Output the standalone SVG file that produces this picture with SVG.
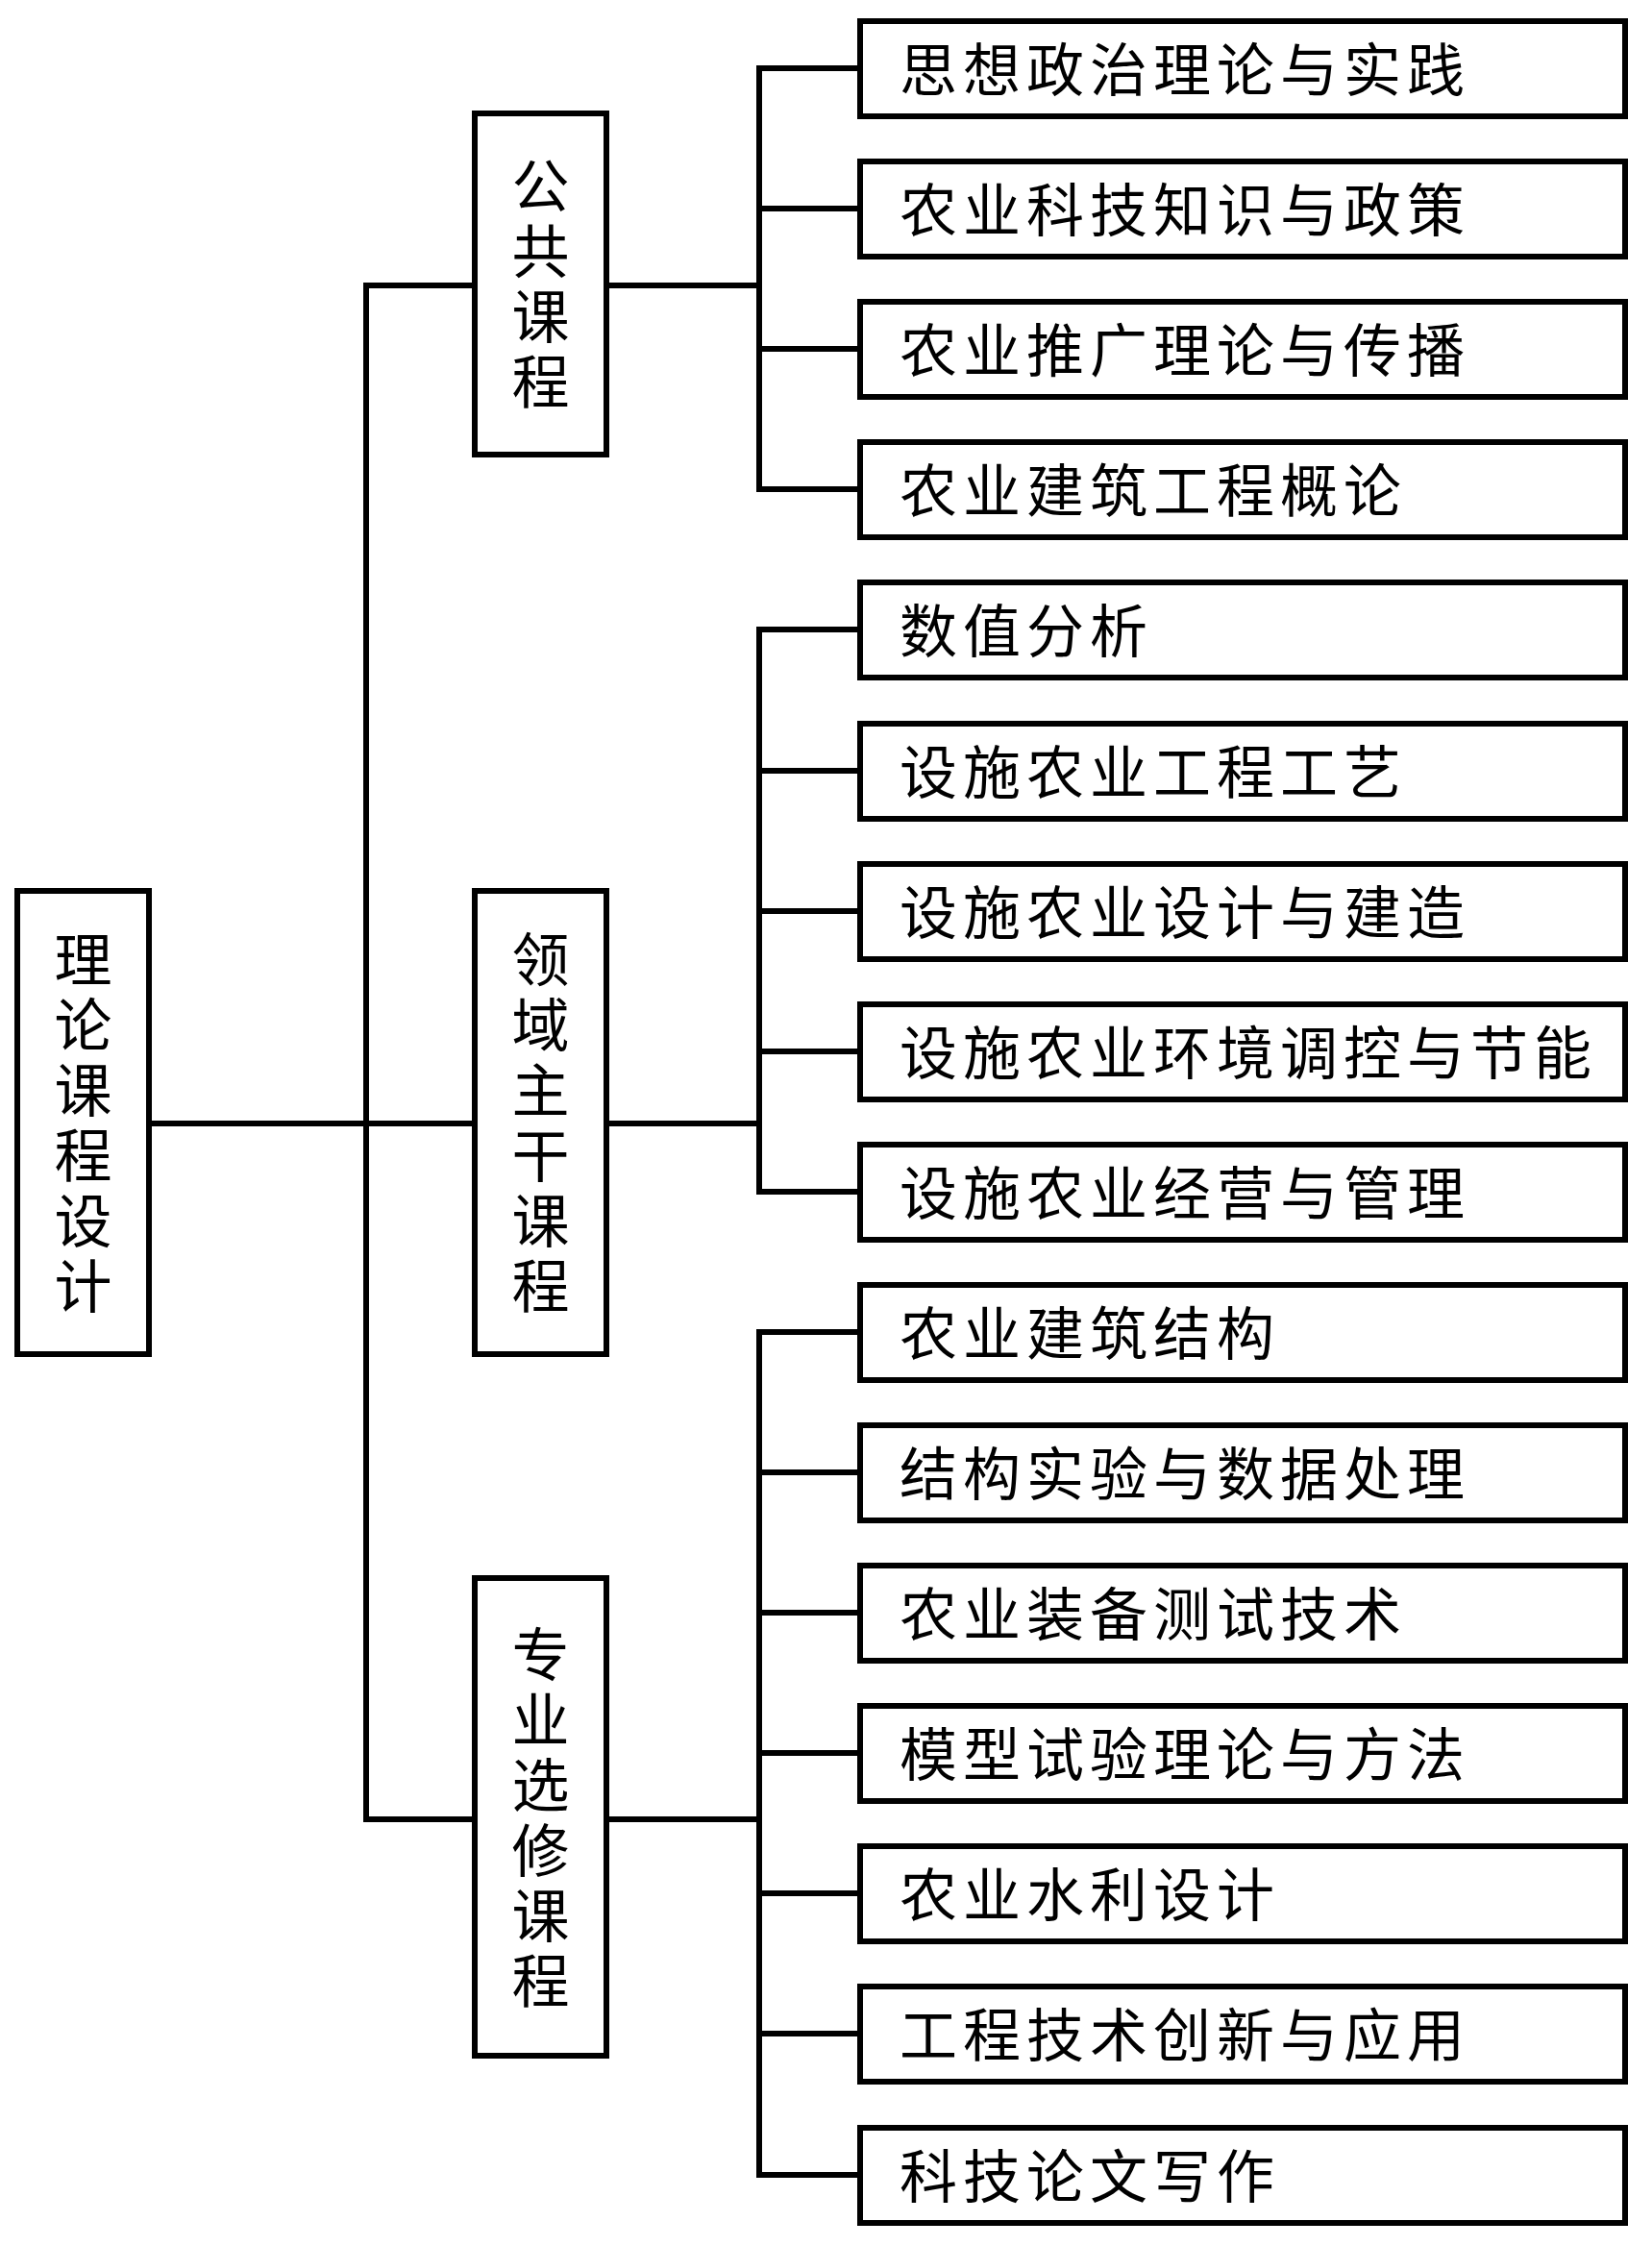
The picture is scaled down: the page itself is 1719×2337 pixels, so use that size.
<svg xmlns="http://www.w3.org/2000/svg" width="1719" height="2337" viewBox="0 0 1719 2337">
<style>
.box{fill:#fff;stroke:#000;stroke-width:6}
.ln{fill:none;stroke:#000;stroke-width:6;stroke-linecap:square}
.t{font-family:"Noto Sans CJK SC","Noto Sans",sans-serif;font-size:60px;fill:#000}
.lt{letter-spacing:6px}
.v{writing-mode:vertical-rl;text-anchor:middle;letter-spacing:8px}
</style>
<rect width="1719" height="2337" fill="#fff"/>
<g id="connectors">
<path class="ln" d="M158 1169H491M381 297V1893M381 297H491M381 1893H491"/>
<path class="ln" d="M634 297H790M790 71V509M790 71H895M790 217H895M790 363H895M790 509H895"/>
<path class="ln" d="M634 1169H790M790 655V1240M790 655H895M790 802H895M790 948H895M790 1094H895M790 1240H895"/>
<path class="ln" d="M634 1893H790M790 1386V2263M790 1386H895M790 1532H895M790 1678H895M790 1824H895M790 1970H895M790 2116H895M790 2263H895"/>
</g>
<g id="root"><rect class="box" x="18" y="927" width="137" height="482"/>
<text class="t v" x="86.5" y="1172">理论课程设计</text></g>
<g id="public"><rect class="box" x="494" y="118" width="137" height="355"/>
<text class="t v" x="562.5" y="299">公共课程</text></g>
<g id="core"><rect class="box" x="494" y="927" width="137" height="482"/>
<text class="t v" x="562.5" y="1172">领域主干课程</text></g>
<g id="elective"><rect class="box" x="494" y="1642" width="137" height="497"/>
<text class="t v" x="562.5" y="1895">专业选修课程</text></g>
<g id="leaf1"><rect class="box" x="895" y="22" width="796" height="99"/><text class="t lt" x="936" y="95">思想政治理论与实践</text></g>
<g id="leaf2"><rect class="box" x="895" y="168" width="796" height="99"/><text class="t lt" x="936" y="241">农业科技知识与政策</text></g>
<g id="leaf3"><rect class="box" x="895" y="314" width="796" height="99"/><text class="t lt" x="936" y="387">农业推广理论与传播</text></g>
<g id="leaf4"><rect class="box" x="895" y="460" width="796" height="99"/><text class="t lt" x="936" y="533">农业建筑工程概论</text></g>
<g id="leaf5"><rect class="box" x="895" y="606" width="796" height="99"/><text class="t lt" x="936" y="679">数值分析</text></g>
<g id="leaf6"><rect class="box" x="895" y="753" width="796" height="99"/><text class="t lt" x="936" y="826">设施农业工程工艺</text></g>
<g id="leaf7"><rect class="box" x="895" y="899" width="796" height="99"/><text class="t lt" x="936" y="972">设施农业设计与建造</text></g>
<g id="leaf8"><rect class="box" x="895" y="1045" width="796" height="99"/><text class="t lt" x="936" y="1118">设施农业环境调控与节能</text></g>
<g id="leaf9"><rect class="box" x="895" y="1191" width="796" height="99"/><text class="t lt" x="936" y="1264">设施农业经营与管理</text></g>
<g id="leaf10"><rect class="box" x="895" y="1337" width="796" height="99"/><text class="t lt" x="936" y="1410">农业建筑结构</text></g>
<g id="leaf11"><rect class="box" x="895" y="1483" width="796" height="99"/><text class="t lt" x="936" y="1556">结构实验与数据处理</text></g>
<g id="leaf12"><rect class="box" x="895" y="1629" width="796" height="99"/><text class="t lt" x="936" y="1702">农业装备测试技术</text></g>
<g id="leaf13"><rect class="box" x="895" y="1775" width="796" height="99"/><text class="t lt" x="936" y="1848">模型试验理论与方法</text></g>
<g id="leaf14"><rect class="box" x="895" y="1921" width="796" height="99"/><text class="t lt" x="936" y="1994">农业水利设计</text></g>
<g id="leaf15"><rect class="box" x="895" y="2067" width="796" height="99"/><text class="t lt" x="936" y="2140">工程技术创新与应用</text></g>
<g id="leaf16"><rect class="box" x="895" y="2214" width="796" height="99"/><text class="t lt" x="936" y="2287">科技论文写作</text></g>
</svg>
